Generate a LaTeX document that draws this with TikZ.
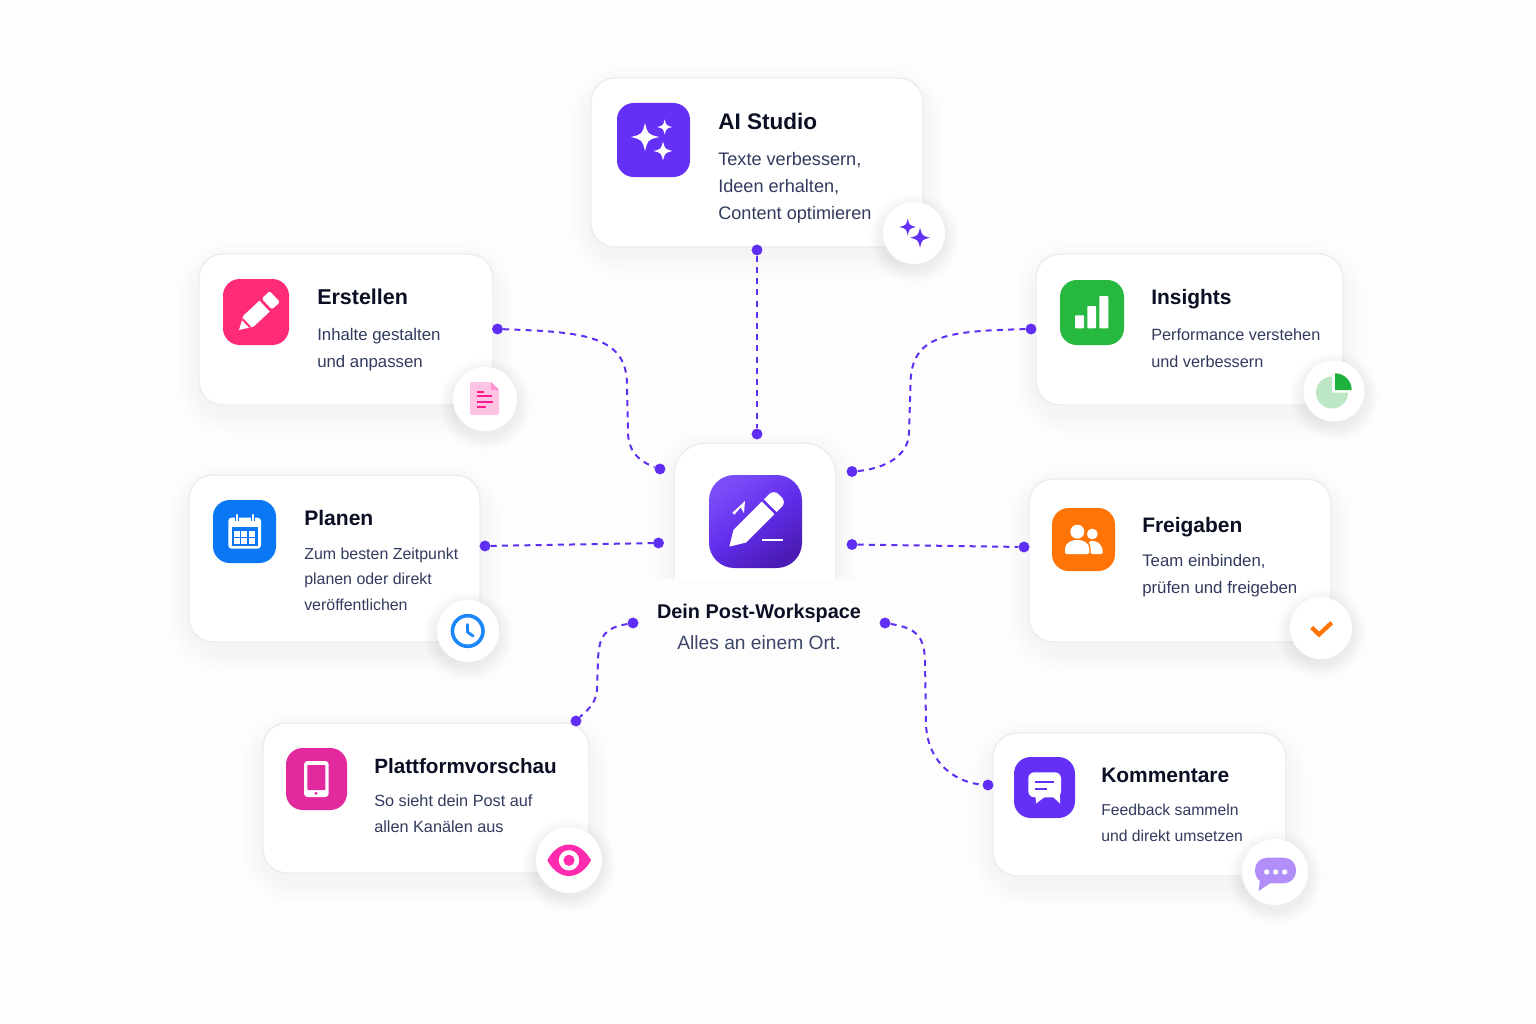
\documentclass[tikz,border=0pt]{standalone}
\usepackage{fontspec}
\setmainfont{Liberation Sans}
\definecolor{bgc}{HTML}{FDFDFE}
\definecolor{edgec}{HTML}{ECECF5}
\definecolor{titlec}{HTML}{0B0F24}
\definecolor{descc}{HTML}{323B5E}
\definecolor{subc}{HTML}{3D4668}
\definecolor{linkc}{HTML}{5F2EF2}
\definecolor{vio}{HTML}{6530F5}
\definecolor{vioA}{HTML}{7A4DF8}
\definecolor{vioB}{HTML}{4A1CB4}
\definecolor{pinkt}{HTML}{FF2A78}
\definecolor{bluet}{HTML}{0A78F5}
\definecolor{bluec}{HTML}{1B87FA}
\definecolor{greent}{HTML}{27B83F}
\definecolor{greend}{HTML}{1DB13E}
\definecolor{greenl}{HTML}{BCE6C4}
\definecolor{oranget}{HTML}{FF7405}
\definecolor{magt}{HTML}{E22A9E}
\definecolor{magb}{HTML}{FF2BAE}
\definecolor{lilac}{HTML}{B28FF8}
\definecolor{docl}{HTML}{FFC4E4}
\definecolor{docf}{HTML}{FF94D2}
\definecolor{docs}{HTML}{FF1D8E}
\tikzset{
  cardbox/.style={draw=edgec,line width=1.1pt,fill=white,rounded corners=18pt,inner sep=0pt},
  tilebox/.style={rounded corners=#1,inner sep=0pt,draw=none},
  badgebox/.style={circle,fill=white,inner sep=0pt,draw=none},
  dotnode/.style={circle,fill=linkc,inner sep=0pt,minimum size=8.2pt},
  link/.style={draw=linkc,line width=1.5pt,dash pattern=on 4.5pt off 3.9pt},
  titletext/.style={anchor=base west,inner sep=0pt,text=titlec},
}
% soft shadows
\newcommand\softbox[7]{\foreach \k in {1,...,8}{\fill[#6,opacity=#7,rounded corners=#5+\k*2] (#1-\k*2.6,#2-\k*2.6+9) rectangle (#3+\k*2.6,#4+\k*2.6+9);}}
\newcommand\softdisc[3]{\foreach \k in {1,...,8}{\fill[black!70!blue,opacity=.008] (#1,#2+5) circle ({#3+\k*1.7});}}
% card: name,x1,y1,x2,y2
\newcommand\cardshape[5]{\softbox{#2}{#3}{#4}{#5}{24}{black!70!blue}{.0045}%
  \pgfmathsetmacro\cw{(#4-#2)*.75}\pgfmathsetmacro\ch{(#5-#3)*.75}%
  \node[cardbox,minimum width=\cw pt,minimum height=\ch pt] (#1) at ({(#2+#4)/2},{(#3+#5)/2}) {};}
% tile: name,x1,y1,x2,y2,colour
\newcommand\tile[6]{\pgfmathsetmacro\cw{(#4-#2)*.75}\pgfmathsetmacro\ch{(#5-#3)*.75}%
  \node[tilebox=12.5pt,fill=#6,minimum width=\cw pt,minimum height=\ch pt] (#1) at ({(#2+#4)/2},{(#3+#5)/2}) {};}
% badge: name,x,y,r
\newcommand\badge[4]{\softdisc{#2}{#3}{#4}\pgfmathsetmacro\cw{#4*1.5}%
  \node[badgebox,minimum size=\cw pt] (#1) at (#2,#3) {};}
% text: name,x,titlebase,descbase,leading,title,desc,titlesize,descsize
\newcommand\cardtext[9]{%
  \node[titletext,font=\fontsize{#8}{22}\selectfont\bfseries] (#1-title) at (#2,#3-1) {#6};
  \node[anchor=north west,inner sep=0pt,align=left,text=descc,font=\fontsize{#9}{#5}\selectfont] (#1-desc) at (#2,#4-14) {\rule{0pt}{10.5pt}#7};}
\newcommand\spark[4]{\fill[#4] (#1,#2-#3) .. controls (#1+.2*#3,#2-.2*#3) .. (#1+#3,#2) .. controls (#1+.2*#3,#2+.2*#3) .. (#1,#2+#3) .. controls (#1-.2*#3,#2+.2*#3) .. (#1-#3,#2) .. controls (#1-.2*#3,#2-.2*#3) .. cycle;}
\begin{document}
\begin{tikzpicture}[x=.75pt,y=-.75pt]
\useasboundingbox (0,0) rectangle (1536,1024);
\fill[bgc] (0,0) rectangle (1536,1024);

% ---------- hub
\begin{scope}
\clip (600,420) rectangle (910,578);
\softbox{674}{443}{836}{620}{24}{vio}{.005}
\node[draw=edgec,line width=1pt,fill=white,rounded corners=24pt,inner sep=0pt,minimum width=121.5pt,minimum height=132.75pt] (hub) at (755,531.5) {};
\end{scope}
\node[inner sep=0pt,rounded corners=19pt,minimum size=69.75pt,top color=vioA,bottom color=vioB,middle color=vio!85!vioB,shading angle=35] (hubtile) at (755.5,521.5) {};
\begin{scope}[shift={(729.3,546.7)},rotate=45]
\fill[white,rounded corners=.5pt] (0,0) -- (15,-9) -- (55,-9) -- (55,9) -- (15,9) -- cycle;
\fill[white,rounded corners=5pt] (58,-9) -- (72,-9) -- (72,9) -- (58,9) -- cycle;
\fill[white] (58,-9) rectangle (64,9);
\end{scope}
\fill[white] (745,501) -- (744,513.3) -- (740.7,507.3) -- (734.3,514.7) -- (732.3,512.7) -- (740,505.7) -- cycle;
\draw[white,line width=2pt] (762,540) -- (782.5,540);
\node[anchor=base,inner sep=0pt,text=titlec,font=\fontsize{14.9}{20}\selectfont\bfseries] (hubtitle) at (759,618) {Dein Post-Workspace};
\node[anchor=base,inner sep=0pt,text=subc,font=\fontsize{14.4}{20}\selectfont] (hubsub) at (759,649) {Alles an einem Ort.};

% ---------- cards
\cardshape{cardAI}{591}{78}{923}{247}
\cardshape{cardER}{199}{254}{493}{405}
\cardshape{cardPL}{189}{475}{480}{642}
\cardshape{cardIN}{1036}{254}{1343}{405}
\cardshape{cardFR}{1029}{479}{1331}{642}
\cardshape{cardPV}{263}{723}{589}{873}
\cardshape{cardKO}{993}{733}{1286}{876}

% ---------- tiles
\tile{tileAI}{617}{103}{690}{177}{vio}
\tile{tileER}{223}{279}{289}{345}{pinkt}
\tile{tilePL}{213}{500}{276}{563}{bluet}
\tile{tileIN}{1060}{280}{1124}{345}{greent}
\tile{tileFR}{1052}{508}{1115}{571}{oranget}
\tile{tilePV}{286}{748}{347}{810}{magt}
\tile{tileKO}{1014}{757}{1075}{818}{vio}

% ---------- tile glyphs
\spark{645}{137}{14}{white}\spark{664.7}{127}{7.5}{white}\spark{663}{151}{9.5}{white}
% pencil
\begin{scope}[shift={(239,330)},rotate=43]
\fill[white] (0,0) -- (13,-7.5) -- (35,-7.5) -- (35,7.5) -- (13,7.5) -- cycle;
\fill[pinkt] (9,-5.5) rectangle (11,5.5);
\fill[white,rounded corners=1.2pt] (38,-7.5) rectangle (49,7.5);
\end{scope}
% calendar
\fill[white,rounded corners=2.5pt] (228.3,517.7) rectangle (261,548.7);
\fill[bluet] (231.5,527.3) rectangle (258,546);
\foreach \cx in {234,241.3,248.6}{\foreach \cy in {530.5,537.8}{\fill[white] (\cx,\cy) rectangle ++(6,6);}}
\foreach \cx in {236.7,252.7}{\draw[white,line width=1.6pt,line cap=round,preaction={draw=bluet,line width=3pt}] (\cx,515) -- (\cx,520.5);}
% bars
\fill[white,rounded corners=.7pt] (1075,315.3) rectangle (1084,328.3);
\fill[white,rounded corners=.7pt] (1087.3,306) rectangle (1096,328.3);
\fill[white,rounded corners=.7pt] (1099.3,296) rectangle (1108.3,328.3);
% people
\fill[white] (1092.3,534) circle (5.4);
\fill[white,rounded corners=1pt] (1090.5,554) -- (1090.5,547) .. controls (1090,545) and (1089,543) .. (1088.5,541.7) .. controls (1098,539.5) and (1102.7,545) .. (1102.7,554) -- cycle;
\fill[white] (1077.3,531.7) circle (7);
\fill[white,rounded corners=1pt] (1065,554) -- (1065,550) .. controls (1065,543) and (1072,540) .. (1077,540) .. controls (1083,540) and (1089.3,543) .. (1089.3,550) -- (1089.3,554) -- cycle;
% phone
\fill[white,rounded corners=2.6pt] (304,761) rectangle (328.7,797);
\fill[magt,rounded corners=.6pt] (307.3,765) rectangle (325.3,790);
\fill[magt] (316,793.2) circle (1.7);
% comment
\fill[white] (1035.5,795) -- (1036,803.5) -- (1046,796) -- cycle;
\fill[white] (1052,796) -- (1060,803.5) -- (1060,795) -- cycle;
\fill[white,rounded corners=4.5pt] (1028.3,772.3) rectangle (1061,797.3);
\draw[vio,line width=1.6pt] (1035,781.7) -- (1054.3,781.7);
\draw[vio,line width=1.6pt] (1035,788.7) -- (1046.7,788.7);

% ---------- connectors
\node[dotnode] (dAIa) at (757,250) {};
\node[dotnode] (dAIb) at (757,434) {};
\node[dotnode] (dERa) at (497.5,329) {};
\node[dotnode] (dERb) at (660,469) {};
\node[dotnode] (dINa) at (1031,329) {};
\node[dotnode] (dINb) at (852,471.5) {};
\node[dotnode] (dPLa) at (485,546) {};
\node[dotnode] (dPLb) at (658.5,543) {};
\node[dotnode] (dFRa) at (852,544.5) {};
\node[dotnode] (dFRb) at (1024,547) {};
\node[dotnode] (dPVa) at (633,623) {};
\node[dotnode] (dPVb) at (576,721) {};
\node[dotnode] (dKOa) at (885,623) {};
\node[dotnode] (dKOb) at (988,785) {};
\coordinate (mER1) at (627,385);\coordinate (mER2) at (628,432);
\coordinate (mIN1) at (910.5,385);\coordinate (mIN2) at (909,432);
\coordinate (mPV1) at (598,660);\coordinate (mPV2) at (597,690);
\coordinate (mKO1) at (925,660);\coordinate (mKO2) at (926,725);
\draw[link] (dAIa) -- (dAIb);
\draw[link] (dPLa) -- (dPLb);
\draw[link] (dFRa) -- (dFRb);
\draw[link] (dERa) .. controls +(85,3) and +(0,-50) .. (mER1) -- (mER2) .. controls +(0,24) and +(-14,-5) .. (dERb);
\draw[link] (dINa) .. controls +(-85,2) and +(0,-50) .. (mIN1) -- (mIN2) .. controls +(0,28) and +(25,-2) .. (dINb);
\draw[link] (dPVa) .. controls +(-28,5) and +(1,-25) .. (mPV1) -- (mPV2) .. controls +(-1,15) and +(8,-8) .. (dPVb);
\draw[link] (dKOa) .. controls +(30,5) and +(-1,-25) .. (mKO1) -- (mKO2) .. controls +(2,40) and +(-30,-2) .. (dKOb);

% ---------- badges
\badge{badgeAI}{914}{233}{31}
\badge{badgeER}{485}{399}{32}
\badge{badgePL}{468}{631}{31}
\badge{badgeIN}{1334}{391}{30.5}
\badge{badgeFR}{1321}{628}{31}
\badge{badgePV}{569}{860}{33}
\badge{badgeKO}{1275}{872}{33}

\spark{907.7}{227}{8.3}{vio}\spark{920}{237.7}{10}{vio}
% doc
\fill[docl,rounded corners=1pt] (470,382) -- (491,382) -- (499,390) -- (499,415) -- (470,415) -- cycle;
\fill[docf] (491,382) -- (499,390) -- (491,390) -- cycle;
\foreach \ya/\xa/\xb in {391.7/476.7/484,396/476.7/491.7,401.7/476.7/492.5,406.7/476.7/486}{\draw[docs,line width=1.3pt] (\xa,\ya) -- (\xb,\ya);}
% clock
\draw[bluec,line width=2.7pt] (467.7,631) circle (15.3);
\draw[bluec,line width=2.2pt,line join=round,line cap=round] (467.5,624.5) -- (467.5,632) -- (473,636);
% pie
\fill[greenl] (1332,392.5) -- (1332,376.5) arc[start angle=-90,end angle=-360,radius=16] -- cycle;
\fill[greend] (1335,390) -- (1335,373.3) arc[start angle=-90,end angle=0,radius=16.7] -- cycle;
% check
\draw[oranget,line width=3.2pt] (1311.7,627.5) -- (1319,634.5) -- (1331.7,622.7);
% eye
\fill[magb] (547.3,860.3) .. controls (552,851) and (560,844.5) .. (569,844.5) .. controls (578,844.5) and (586,851) .. (591,860.3) .. controls (586,869.5) and (578,876) .. (569,876) .. controls (560,876) and (552,869.5) .. (547.3,860.3) -- cycle;
\fill[white] (569,860.3) circle (10.2);
\fill[magb] (569,860.3) circle (5.6);
% chat
\fill[lilac] (1260,878) -- (1258.7,891) -- (1272,882) -- cycle;
\fill[lilac,rounded corners=9pt] (1255,857.7) rectangle (1296,883.3);
\foreach \cx in {1266.7,1275.7,1284.7}{\fill[white] (\cx,872) circle (2.6);}

% ---------- texts
\cardtext{ai}{718}{131}{165}{20.25pt}{AI Studio}{Texte verbessern,\\Ideen erhalten,\\Content optimieren}{16.9}{13.6}
\cardtext{er}{317}{305}{340}{20.25pt}{Erstellen}{Inhalte gestalten\\und anpassen}{16.1}{12.6}
\cardtext{pl}{304}{526}{559}{19.1pt}{Planen}{Zum besten Zeitpunkt\\planen oder direkt\\veröffentlichen}{15.8}{11.95}
\cardtext{in}{1151}{305}{340}{20.25pt}{Insights}{Performance verstehen\\und verbessern}{15.7}{12.2}
\cardtext{fr}{1142}{533}{566}{20.25pt}{Freigaben}{Team einbinden,\\prüfen und freigeben}{15.7}{12.6}
\cardtext{pv}{374}{774}{806}{19.5pt}{Plattformvorschau}{So sieht dein Post auf\\allen Kanälen aus}{15.5}{12.2}
\cardtext{ko}{1101}{783}{815}{19.5pt}{Kommentare}{Feedback sammeln\\und direkt umsetzen}{15.7}{11.8}
\end{tikzpicture}
\end{document}
